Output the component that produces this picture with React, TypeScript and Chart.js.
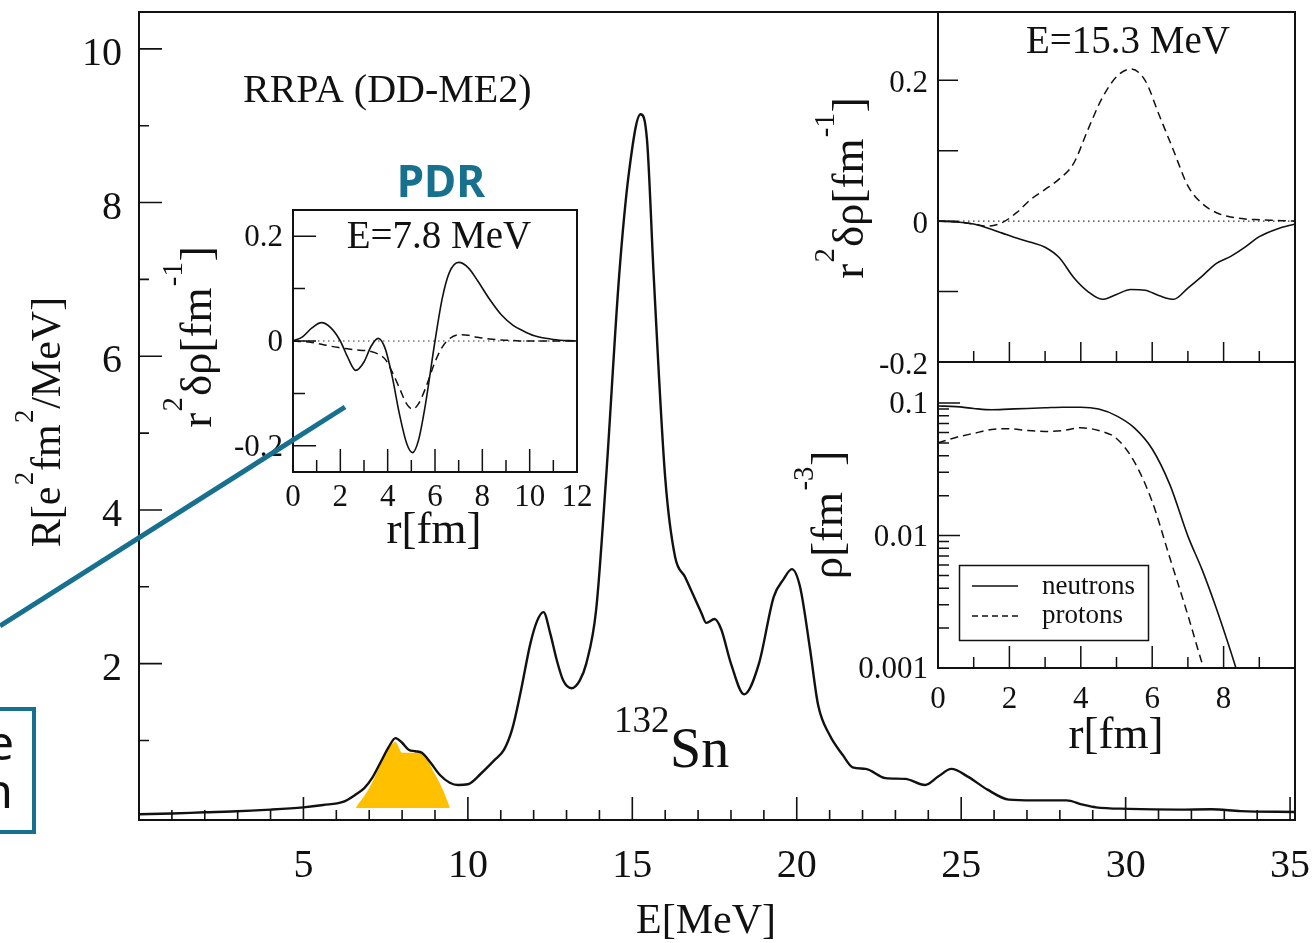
import React, { useEffect, useRef } from "react";
import { Chart, registerables } from "chart.js";

Chart.register(...registerables);

const W = 1314;
const H = 943;
const SERIF = '"Liberation Serif", "Times New Roman", serif';
const SANS = '"Noto Sans", "Open Sans", sans-serif';
const INK = "#111111";
const TEAL = "#17708E";
const ORANGE = "#FFC000";

// ---------- main strength function R(E) ----------
const energyMeV = [
  0, 1, 2, 2.8, 4, 5, 5.6, 6.2, 6.6, 6.85,
  7.1, 7.35, 7.6, 7.8, 8.0, 8.2, 8.4, 8.6, 8.85, 9.15,
  9.45, 9.7, 10.0, 10.4, 10.8, 11.1, 11.35, 11.6, 11.9, 12.1,
  12.3, 12.5, 12.7, 12.9, 13.15, 13.4, 13.6, 13.9, 14.2, 14.6,
  14.9, 15.25, 15.45, 15.65, 16.0, 16.3, 16.6, 17.1, 17.25, 17.5,
  17.7, 18.0, 18.4, 18.85, 19.3, 19.6, 19.85, 20.1, 20.4, 20.65,
  21.0, 21.4, 21.7, 22.1, 22.7, 23.3, 23.9, 24.3, 24.7, 25.2,
  25.8, 26.45, 27.2, 28.2, 28.7, 29.1, 30.1, 31.6, 32.6, 33.5,
  35.15,
];
const strength = [
  0.04, 0.05, 0.065, 0.075, 0.1, 0.13, 0.16, 0.2, 0.3, 0.38,
  0.52, 0.72, 0.92, 1.03, 0.97, 0.88, 0.86, 0.84, 0.72, 0.55,
  0.45, 0.42, 0.43, 0.57, 0.74, 0.88, 1.15, 1.62, 2.26, 2.55,
  2.67, 2.4, 2.05, 1.78, 1.68, 1.78, 2.0, 2.7, 4.4, 7.05,
  8.4, 9.15, 8.8, 7.05, 4.42, 3.39, 3.13, 2.66, 2.53, 2.58,
  2.45, 2.0, 1.6, 2.0, 2.87, 3.1, 3.23, 3.0, 2.2, 1.46,
  1.07, 0.81, 0.65, 0.63, 0.51, 0.5, 0.42, 0.53, 0.63, 0.53,
  0.36, 0.23, 0.22, 0.22, 0.165, 0.13, 0.11, 0.1, 0.105, 0.08,
  0.07,
];
// highlighted PDR region
const pdrEnergy = [6.6, 7.0, 7.3, 7.6, 7.8, 8.0, 8.6, 8.95, 9.25, 9.45];
const pdrStrength = [0.13, 0.38, 0.65, 0.9, 0.98, 0.84, 0.84, 0.6, 0.35, 0.13];
const pdrBase = 0.12;

const mainXTicks = [5, 10, 15, 20, 25, 30, 35];
const mainXTickLabels = ["5", "10", "15", "20", "25", "30", "35"];
const mainXMinor = [1, 2, 3, 4, 6, 7, 8, 9, 11, 12, 13, 14, 16, 17, 18, 19, 21, 22, 23, 24, 26, 27, 28, 29, 31, 32, 33, 34];
const mainYTicks = [2, 4, 6, 8, 10];
const mainYTickLabels = ["2", "4", "6", "8", "10"];
const mainYMinor = [1, 3, 5, 7, 9];

// ---------- PDR transition density, E = 7.8 MeV ----------
const pdrR = [0, 0.4, 0.8, 1.2, 1.6, 2.0, 2.3, 2.65, 3.0, 3.3, 3.6, 3.9, 4.2, 4.5, 4.8, 5.05, 5.3, 5.6, 6.0, 6.3, 6.6, 7.0, 7.4, 7.8, 8.3, 8.8, 9.3, 9.7, 10.2, 11.0, 12.0];
const pdrNeutron = [0, 0.008, 0.025, 0.035, 0.025, 0.0, -0.03, -0.056, -0.04, -0.01, 0.005, -0.015, -0.07, -0.14, -0.195, -0.213, -0.19, -0.12, 0.0, 0.08, 0.13, 0.15, 0.14, 0.115, 0.08, 0.05, 0.03, 0.02, 0.01, 0.003, 0.0];
const pdrProton = [0, -0.001, -0.003, -0.006, -0.01, -0.013, -0.015, -0.017, -0.018, -0.02, -0.025, -0.035, -0.06, -0.09, -0.12, -0.13, -0.12, -0.09, -0.04, -0.012, 0.004, 0.012, 0.011, 0.007, 0.004, 0.002, 0.001, 0.0, 0.0, 0.0, 0.0];
const pdrXTicks = [0, 2, 4, 6, 8, 10, 12];
const pdrXTickLabels = ["0", "2", "4", "6", "8", "10", "12"];
const pdrYTicks = [-0.2, 0, 0.2];
const pdrYTickLabels = ["-0.2", "0", "0.2"];

// ---------- GDR transition density, E = 15.3 MeV ----------
const gdrR = [0, 0.5, 1.0, 1.4, 1.8, 2.2, 2.6, 3.0, 3.4, 3.8, 4.2, 4.6, 5.0, 5.4, 5.8, 6.2, 6.6, 7.0, 7.4, 7.8, 8.2, 8.6, 9.0, 9.5, 10.0];
const gdrNeutron = [0, -0.001, -0.004, -0.01, -0.017, -0.024, -0.03, -0.037, -0.052, -0.08, -0.1, -0.111, -0.104, -0.097, -0.098, -0.106, -0.111, -0.095, -0.078, -0.06, -0.05, -0.037, -0.022, -0.011, -0.004];
const gdrProton = [0, -0.001, -0.004, -0.007, -0.002, 0.012, 0.031, 0.045, 0.06, 0.082, 0.13, 0.175, 0.205, 0.216, 0.2, 0.15, 0.1, 0.05, 0.025, 0.012, 0.006, 0.003, 0.002, 0.001, 0.0];
const gdrYTicks = [-0.2, 0, 0.2];
const gdrYTickLabels = ["-0.2", "0", "0.2"];

// ---------- ground-state densities ----------
const densR = [0, 0.5, 1.0, 1.5, 2.0, 2.5, 3.0, 3.5, 4.0, 4.5, 5.0, 5.5, 6.0, 6.5, 7.0, 7.4, 7.8, 8.2, 8.6];
const densNeutron = [0.095, 0.094, 0.091, 0.089, 0.09, 0.091, 0.092, 0.093, 0.093, 0.09, 0.08, 0.065, 0.045, 0.024, 0.0099, 0.0055, 0.0028, 0.00133, 0.0006];
const densProton = [0.05, 0.055, 0.059, 0.063, 0.064, 0.062, 0.061, 0.062, 0.065, 0.062, 0.054, 0.036, 0.018, 0.0067, 0.0025, 0.00108, 0.0005, 0.0002, 0.0001];
const densXTicks = [0, 2, 4, 6, 8];
const densXTickLabels = ["0", "2", "4", "6", "8"];
const densYTicks = [0.001, 0.01, 0.1];
const densYTickLabels = ["0.001", "0.01", "0.1"];
const densYMinor = [0.002, 0.003, 0.004, 0.005, 0.006, 0.007, 0.008, 0.009, 0.02, 0.03, 0.04, 0.05, 0.06, 0.07, 0.08, 0.09];
const legendLabels = ["neutrons", "protons"];

type Seg = { t: string; sup?: boolean };

function drawRich(ctx: CanvasRenderingContext2D, segs: Seg[], x: number, y: number, size: number, align: "left" | "center", rotate = false) {
  const supSize = size * 0.64;
  const raise = size * 0.64;
  const widths = segs.map((s) => {
    ctx.font = `${s.sup ? supSize : size}px ${SERIF}`;
    return ctx.measureText(s.t).width + (s.sup ? size * 0.05 : 0);
  });
  const total = widths.reduce((a, b) => a + b, 0);
  ctx.save();
  ctx.translate(x, y);
  if (rotate) ctx.rotate(-Math.PI / 2);
  ctx.textAlign = "left";
  ctx.textBaseline = "alphabetic";
  ctx.fillStyle = INK;
  let cx = align === "center" ? -total / 2 : 0;
  segs.forEach((s, i) => {
    ctx.font = `${s.sup ? supSize : size}px ${SERIF}`;
    ctx.fillText(s.t, cx + (s.sup ? size * 0.03 : 0), s.sup ? -raise : 0);
    cx += widths[i];
  });
  ctx.restore();
}

function text(ctx: CanvasRenderingContext2D, t: string, x: number, y: number, size: number, align: CanvasTextAlign) {
  ctx.save();
  ctx.font = `${size}px ${SERIF}`;
  ctx.fillStyle = INK;
  ctx.textAlign = align;
  ctx.textBaseline = "alphabetic";
  ctx.fillText(t, x, y);
  ctx.restore();
}

interface FrameCfg {
  id: string;
  xMajor: number[];
  xMinor: number[];
  yMajor: number[];
  yMinor: number[];
  majorLen: number;
  minorLen: number;
  frameWidth: number;
  tickWidth: number;
  tickFont: number;
  xTicks: number[];
  xTickLabels: string[];
  xLabelY: number;
  yTicks: number[];
  yTickLabels: string[];
  yLabelX: number;
  yLabelDy: number;
  extra?: (ctx: CanvasRenderingContext2D, chart: any) => void;
}

function framePlugin(cfg: FrameCfg) {
  return {
    id: cfg.id,
    afterDraw(chart: any) {
      const ctx: CanvasRenderingContext2D = chart.ctx;
      const { left, right, top, bottom } = chart.chartArea;
      const xs = chart.scales.x;
      const ys = chart.scales.y;
      ctx.save();
      ctx.strokeStyle = INK;
      ctx.lineWidth = cfg.tickWidth;
      ctx.beginPath();
      cfg.xMajor.forEach((v) => {
        const p = xs.getPixelForValue(v);
        ctx.moveTo(p, bottom);
        ctx.lineTo(p, bottom - cfg.majorLen);
      });
      cfg.xMinor.forEach((v) => {
        const p = xs.getPixelForValue(v);
        ctx.moveTo(p, bottom);
        ctx.lineTo(p, bottom - cfg.minorLen);
      });
      cfg.yMajor.forEach((v) => {
        const p = ys.getPixelForValue(v);
        ctx.moveTo(left, p);
        ctx.lineTo(left + cfg.majorLen, p);
      });
      cfg.yMinor.forEach((v) => {
        const p = ys.getPixelForValue(v);
        ctx.moveTo(left, p);
        ctx.lineTo(left + cfg.minorLen, p);
      });
      ctx.stroke();
      ctx.lineWidth = cfg.frameWidth;
      ctx.strokeRect(left, top, right - left, bottom - top);
      ctx.restore();
      cfg.xTicks.forEach((v, i) => text(ctx, cfg.xTickLabels[i], xs.getPixelForValue(v), cfg.xLabelY, cfg.tickFont, "center"));
      cfg.yTicks.forEach((v, i) => text(ctx, cfg.yTickLabels[i], cfg.yLabelX, ys.getPixelForValue(v) + cfg.yLabelDy, cfg.tickFont, "right"));
      if (cfg.extra) cfg.extra(ctx, chart);
    },
  };
}

function pts(xs: number[], ys: number[]) {
  return xs.map((x, i) => ({ x, y: ys[i] }));
}

function makeConfig(area: { l: number; t: number; r: number; b: number }, x: [number, number], y: [number, number], yType: string, datasets: any[], plugin: any): any {
  return {
    type: "line",
    data: { datasets },
    options: {
      responsive: false,
      animation: false,
      events: [],
      layout: { padding: { left: area.l, top: area.t, right: W - area.r, bottom: H - area.b } },
      scales: {
        x: { type: "linear", min: x[0], max: x[1], display: false },
        y: { type: yType, min: y[0], max: y[1], display: false },
      },
      plugins: { legend: { display: false }, tooltip: { enabled: false }, title: { display: false } },
      elements: { point: { radius: 0 } },
    },
    plugins: [plugin],
  };
}

const solid = (data: any[], width = 1.6) => ({
  data, borderColor: INK, borderWidth: width, pointRadius: 0, cubicInterpolationMode: "monotone", fill: false,
});
const dashed = (data: any[]) => ({
  data, borderColor: INK, borderWidth: 1.5, borderDash: [8, 5], pointRadius: 0, cubicInterpolationMode: "monotone", fill: false,
});
const dotted = (x0: number, x1: number) => ({
  data: [{ x: x0, y: 0 }, { x: x1, y: 0 }], borderColor: "#333", borderWidth: 1.2, borderDash: [1.5, 3.5], pointRadius: 0, fill: false,
});

const INSET_TITLE = 45;
const INSET_TICK = 31;

function mainChartConfig() {
  const plugin = framePlugin({
    id: "mainFrame",
    xMajor: mainXTicks, xMinor: mainXMinor, yMajor: mainYTicks, yMinor: mainYMinor,
    majorLen: 23, minorLen: 10, frameWidth: 2, tickWidth: 1.6, tickFont: 40,
    xTicks: mainXTicks, xTickLabels: mainXTickLabels, xLabelY: 877,
    yTicks: mainYTicks, yTickLabels: mainYTickLabels, yLabelX: 122, yLabelDy: 16,
    extra: (ctx) => {
      text(ctx, "RRPA (DD-ME2)", 243, 102, 40, "left");
      text(ctx, "132", 614, 732, 37, "left");
      text(ctx, "Sn", 670, 767, 56, "left");
      drawRich(ctx, [{ t: "R[e" }, { t: "2", sup: true }, { t: "fm" }, { t: "2", sup: true }, { t: "/MeV]" }], 60, 422, 42, "center", true);
      text(ctx, "E[MeV]", 706, 933, 42, "center");
    },
  });
  return makeConfig(
    { l: 139, t: 12, r: 1295, b: 820 },
    [0, 35.15],
    [-0.035, 10.48],
    "linear",
    [
      { ...solid(pts(energyMeV, strength), 2.4) },
      {
        data: pts(pdrEnergy, pdrStrength), borderWidth: 0, borderColor: ORANGE, backgroundColor: ORANGE,
        fill: { value: pdrBase }, pointRadius: 0, cubicInterpolationMode: "monotone",
      },
    ],
    plugin
  );
}

function pdrChartConfig() {
  const plugin = framePlugin({
    id: "pdrFrame",
    xMajor: [2, 4, 6, 8, 10], xMinor: [1, 3, 5, 7, 9, 11], yMajor: [-0.2, 0, 0.2], yMinor: [-0.1, 0.1],
    majorLen: 23, minorLen: 12, frameWidth: 2, tickWidth: 1.5, tickFont: INSET_TICK,
    xTicks: pdrXTicks, xTickLabels: pdrXTickLabels, xLabelY: 506,
    yTicks: pdrYTicks, yTickLabels: pdrYTickLabels, yLabelX: 283, yLabelDy: 10,
    extra: (ctx) => {
      text(ctx, "E=7.8 MeV", 439, 248, 39, "center");
      drawRich(ctx, [{ t: "r" }, { t: "2", sup: true }, { t: "δρ[fm" }, { t: "-1", sup: true }, { t: "]" }], 211, 337, INSET_TITLE, "center", true);
      text(ctx, "r[fm]", 434, 543, INSET_TITLE, "center");
    },
  });
  return makeConfig(
    { l: 293, t: 210, r: 577, b: 472 },
    [0, 12],
    [-0.25, 0.25],
    "linear",
    [solid(pts(pdrR, pdrNeutron)), dashed(pts(pdrR, pdrProton)), dotted(0, 12)],
    plugin
  );
}

function gdrChartConfig() {
  const plugin = framePlugin({
    id: "gdrFrame",
    xMajor: [2, 4, 6, 8], xMinor: [1, 3, 5, 7, 9], yMajor: [-0.1, 0, 0.1, 0.2], yMinor: [],
    majorLen: 20, minorLen: 11, frameWidth: 2, tickWidth: 1.5, tickFont: INSET_TICK,
    xTicks: [], xTickLabels: [], xLabelY: 0,
    yTicks: gdrYTicks, yTickLabels: gdrYTickLabels, yLabelX: 928, yLabelDy: 12,
    extra: (ctx) => {
      text(ctx, "E=15.3 MeV", 1128, 53, 39, "center");
      drawRich(ctx, [{ t: "r" }, { t: "2", sup: true }, { t: "δρ[fm" }, { t: "-1", sup: true }, { t: "]" }], 863, 188, INSET_TITLE, "center", true);
    },
  });
  return makeConfig(
    { l: 938, t: 12, r: 1295, b: 362 },
    [0, 10],
    [-0.2, 0.297],
    "linear",
    [solid(pts(gdrR, gdrNeutron)), dashed(pts(gdrR, gdrProton)), dotted(0, 10)],
    plugin
  );
}

function densChartConfig() {
  const plugin = framePlugin({
    id: "densFrame",
    xMajor: [2, 4, 6, 8], xMinor: [1, 3, 5, 7, 9], yMajor: densYTicks, yMinor: densYMinor,
    majorLen: 22, minorLen: 11, frameWidth: 2, tickWidth: 1.5, tickFont: INSET_TICK,
    xTicks: densXTicks, xTickLabels: densXTickLabels, xLabelY: 708,
    yTicks: densYTicks, yTickLabels: densYTickLabels, yLabelX: 928, yLabelDy: 10,
    extra: (ctx) => {
      drawRich(ctx, [{ t: "ρ[fm" }, { t: "-3", sup: true }, { t: "]" }], 842, 515, INSET_TITLE, "center", true);
      text(ctx, "r[fm]", 1116, 748, INSET_TITLE, "center");
      // legend
      ctx.save();
      ctx.strokeStyle = INK;
      ctx.lineWidth = 1.5;
      ctx.strokeRect(959.5, 565.5, 189, 75);
      ctx.beginPath();
      ctx.moveTo(972, 586);
      ctx.lineTo(1018, 586);
      ctx.stroke();
      ctx.setLineDash([6, 4]);
      ctx.beginPath();
      ctx.moveTo(972, 616);
      ctx.lineTo(1018, 616);
      ctx.stroke();
      ctx.restore();
      text(ctx, legendLabels[0], 1042, 594, 27, "left");
      text(ctx, legendLabels[1], 1042, 623, 27, "left");
    },
  });
  return makeConfig(
    { l: 938, t: 362, r: 1295, b: 668 },
    [0, 10],
    [0.001, 0.204],
    "logarithmic",
    [solid(pts(densR, densNeutron)), dashed(pts(densR, densProton))],
    plugin
  );
}

const canvasStyle: React.CSSProperties = { position: "absolute", left: 0, top: 0, width: W, height: H };

export default function App() {
  const mainRef = useRef<HTMLCanvasElement>(null);
  const pdrRef = useRef<HTMLCanvasElement>(null);
  const gdrRef = useRef<HTMLCanvasElement>(null);
  const densRef = useRef<HTMLCanvasElement>(null);

  useEffect(() => {
    const charts: Chart[] = [];
    if (mainRef.current) charts.push(new Chart(mainRef.current, mainChartConfig()));
    if (pdrRef.current) charts.push(new Chart(pdrRef.current, pdrChartConfig()));
    if (gdrRef.current) charts.push(new Chart(gdrRef.current, gdrChartConfig()));
    if (densRef.current) charts.push(new Chart(densRef.current, densChartConfig()));
    return () => charts.forEach((c) => c.destroy());
  }, []);

  return (
    <div style={{ position: "fixed", left: 0, top: 0, width: W, height: H, background: "#ffffff", overflow: "hidden" }}>
      <canvas ref={mainRef} width={W} height={H} style={canvasStyle} />
      <canvas ref={pdrRef} width={W} height={H} style={canvasStyle} />
      <canvas ref={gdrRef} width={W} height={H} style={canvasStyle} />
      <canvas ref={densRef} width={W} height={H} style={canvasStyle} />
      <svg width={W} height={H} style={{ position: "absolute", left: 0, top: 0, pointerEvents: "none" }}>
        <line x1={0} y1={626} x2={345} y2={407} stroke={TEAL} strokeWidth={5} />
        <rect x={-10} y={709} width={44} height={123} fill="none" stroke={TEAL} strokeWidth={4} />
        <text x={14} y={760} textAnchor="end" fontFamily={SANS} fontSize={48} fill="#111">e</text>
        <text x={13} y={808} textAnchor="end" fontFamily={SANS} fontSize={48} fill="#111">n</text>
        <text x={441} y={197} textAnchor="middle" fontFamily={SANS} fontWeight={700} fontSize={44} fill={TEAL}>PDR</text>
      </svg>
    </div>
  );
}
